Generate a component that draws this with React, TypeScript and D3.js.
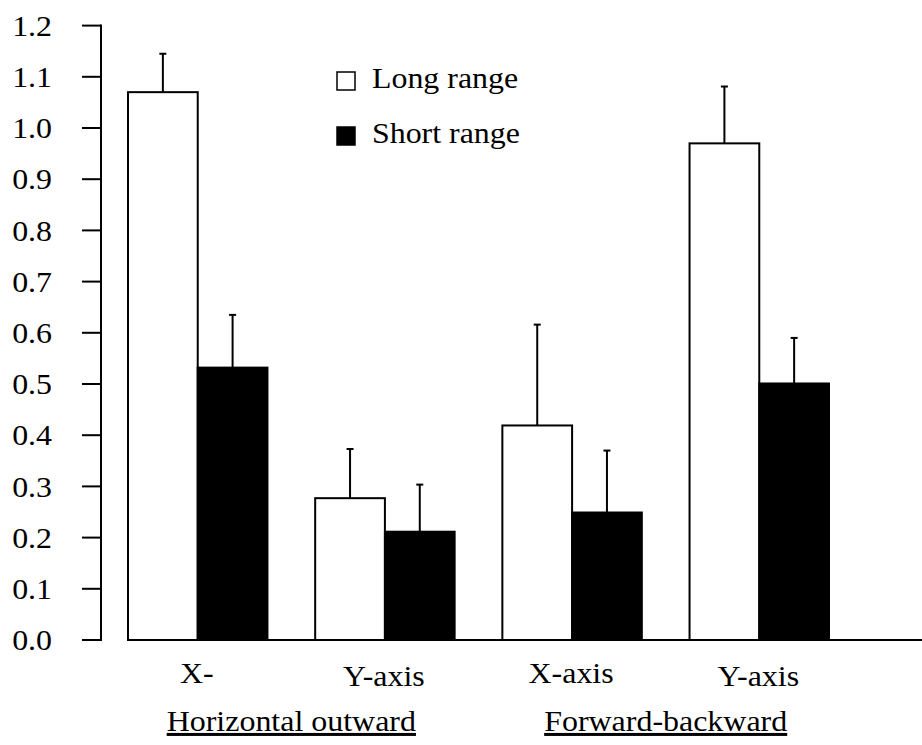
import React from "react";
import * as d3 from "d3";

const groups = ["g1", "g2", "g3", "g4"];
const groupLabels = ["X-", "Y-axis", "X-axis", "Y-axis"];
const sectionLabels = ["Horizontal outward", "Forward-backward"];
const seriesNames = ["Long range", "Short range"];
const longRange = [1.07, 0.277, 0.419, 0.97];
const longErr = [0.075, 0.096, 0.197, 0.111];
const shortRange = [0.532, 0.2115, 0.249, 0.501];
const shortErr = [0.103, 0.092, 0.121, 0.089];
const yTicks = [0, 0.1, 0.2, 0.3, 0.4, 0.5, 0.6, 0.7, 0.8, 0.9, 1.0, 1.1, 1.2];

const W = 922;
const H = 745;
const FONT = "'Liberation Serif', 'Times New Roman', Times, serif";

function SText(props: {
  x: number;
  y: number;
  sx: number;
  size: number;
  anchor?: string;
  dy?: string;
  underline?: boolean;
  children: React.ReactNode;
}) {
  return (
    <text
      transform={`translate(${props.x},${props.y}) scale(${props.sx},1)`}
      textAnchor={props.anchor || "start"}
      dy={props.dy}
      fontSize={props.size}
      fill="#000"
      textDecoration={props.underline ? "underline" : undefined}
    >
      {props.children}
    </text>
  );
}

export default function App() {
  const y = d3.scaleLinear().domain([0, 1.2]).range([640, 25.6]);
  const x0 = d3.scaleBand().domain(groups).range([128, 829]).paddingInner(0.255).paddingOuter(0);
  const x1 = d3.scaleBand().domain(seriesNames).range([0, x0.bandwidth()]).padding(0);
  const fmt = d3.format(".1f");
  const axisX = 101;
  const series = [
    { name: seriesNames[0], vals: longRange, errs: longErr, fill: "#fff" },
    { name: seriesNames[1], vals: shortRange, errs: shortErr, fill: "#000" },
  ];
  const capHalf = 3.5;

  return (
    <svg width={W} height={H} style={{ position: "absolute", left: 0, top: 0, background: "#fff" }} fontFamily={FONT}>
      <rect x={0} y={0} width={W} height={H} fill="#fff" />
      {/* y axis */}
      <line x1={axisX} x2={axisX} y1={y(1.2) - 1} y2={y(0) + 1} stroke="#000" strokeWidth={2} />
      {yTicks.map((t) => (
        <g key={t}>
          <line x1={82} x2={axisX} y1={y(t)} y2={y(t)} stroke="#000" strokeWidth={2} />
          <SText x={52} y={y(t)} dy="0.35em" anchor="end" size={29} sx={1.1}>
            {fmt(t)}
          </SText>
        </g>
      ))}
      {/* error bars (drawn behind bars) */}
      {series.map((s) =>
        groups.map((g, i) => {
          const cx = (x0(g) ?? 0) + (x1(s.name) ?? 0) + x1.bandwidth() / 2;
          const top = y(s.vals[i] + s.errs[i]);
          return (
            <g key={s.name + g + "err"}>
              <line x1={cx} x2={cx} y1={y(s.vals[i])} y2={top} stroke="#000" strokeWidth={2} />
              <line x1={cx - capHalf} x2={cx + capHalf} y1={top} y2={top} stroke="#000" strokeWidth={2} />
            </g>
          );
        })
      )}
      {/* bars */}
      {series.map((s) =>
        groups.map((g, i) => {
          const bx = (x0(g) ?? 0) + (x1(s.name) ?? 0);
          return (
            <rect
              key={s.name + g}
              x={bx}
              y={y(s.vals[i])}
              width={x1.bandwidth()}
              height={y(0) - y(s.vals[i])}
              fill={s.fill}
              stroke="#000"
              strokeWidth={2}
            />
          );
        })
      )}
      {/* x axis baseline */}
      <line x1={127} x2={922} y1={y(0)} y2={y(0)} stroke="#000" strokeWidth={2} />
      {/* group labels */}
      {groups.map((g, i) => (
        <SText
          key={g + "lbl"}
          x={(x0(g) ?? 0) + x0.bandwidth() / 2 - 1}
          y={i % 2 === 0 ? 683 : 685.5}
          anchor="middle"
          size={30}
          sx={1.065}
        >
          {groupLabels[i]}
        </SText>
      ))}
      {/* section labels */}
      {sectionLabels.map((lbl, k) => {
        const a = groups[k * 2];
        const b = groups[k * 2 + 1];
        const cx = ((x0(a) ?? 0) + x0.bandwidth() / 2 + (x0(b) ?? 0) + x0.bandwidth() / 2) / 2;
        return (
          <SText key={lbl} x={cx} y={731} anchor="middle" size={30} sx={1.065} underline>
            {lbl}
          </SText>
        );
      })}
      {/* legend */}
      {series.map((s, k) => (
        <g key={s.name + "leg"} transform={`translate(337, ${72 + k * 55})`}>
          <rect x={0} y={0} width={18} height={18} fill={s.fill} stroke="#000" strokeWidth={1.5} />
          <SText x={35} y={16} size={29} sx={1.1}>
            {s.name}
          </SText>
        </g>
      ))}
    </svg>
  );
}
